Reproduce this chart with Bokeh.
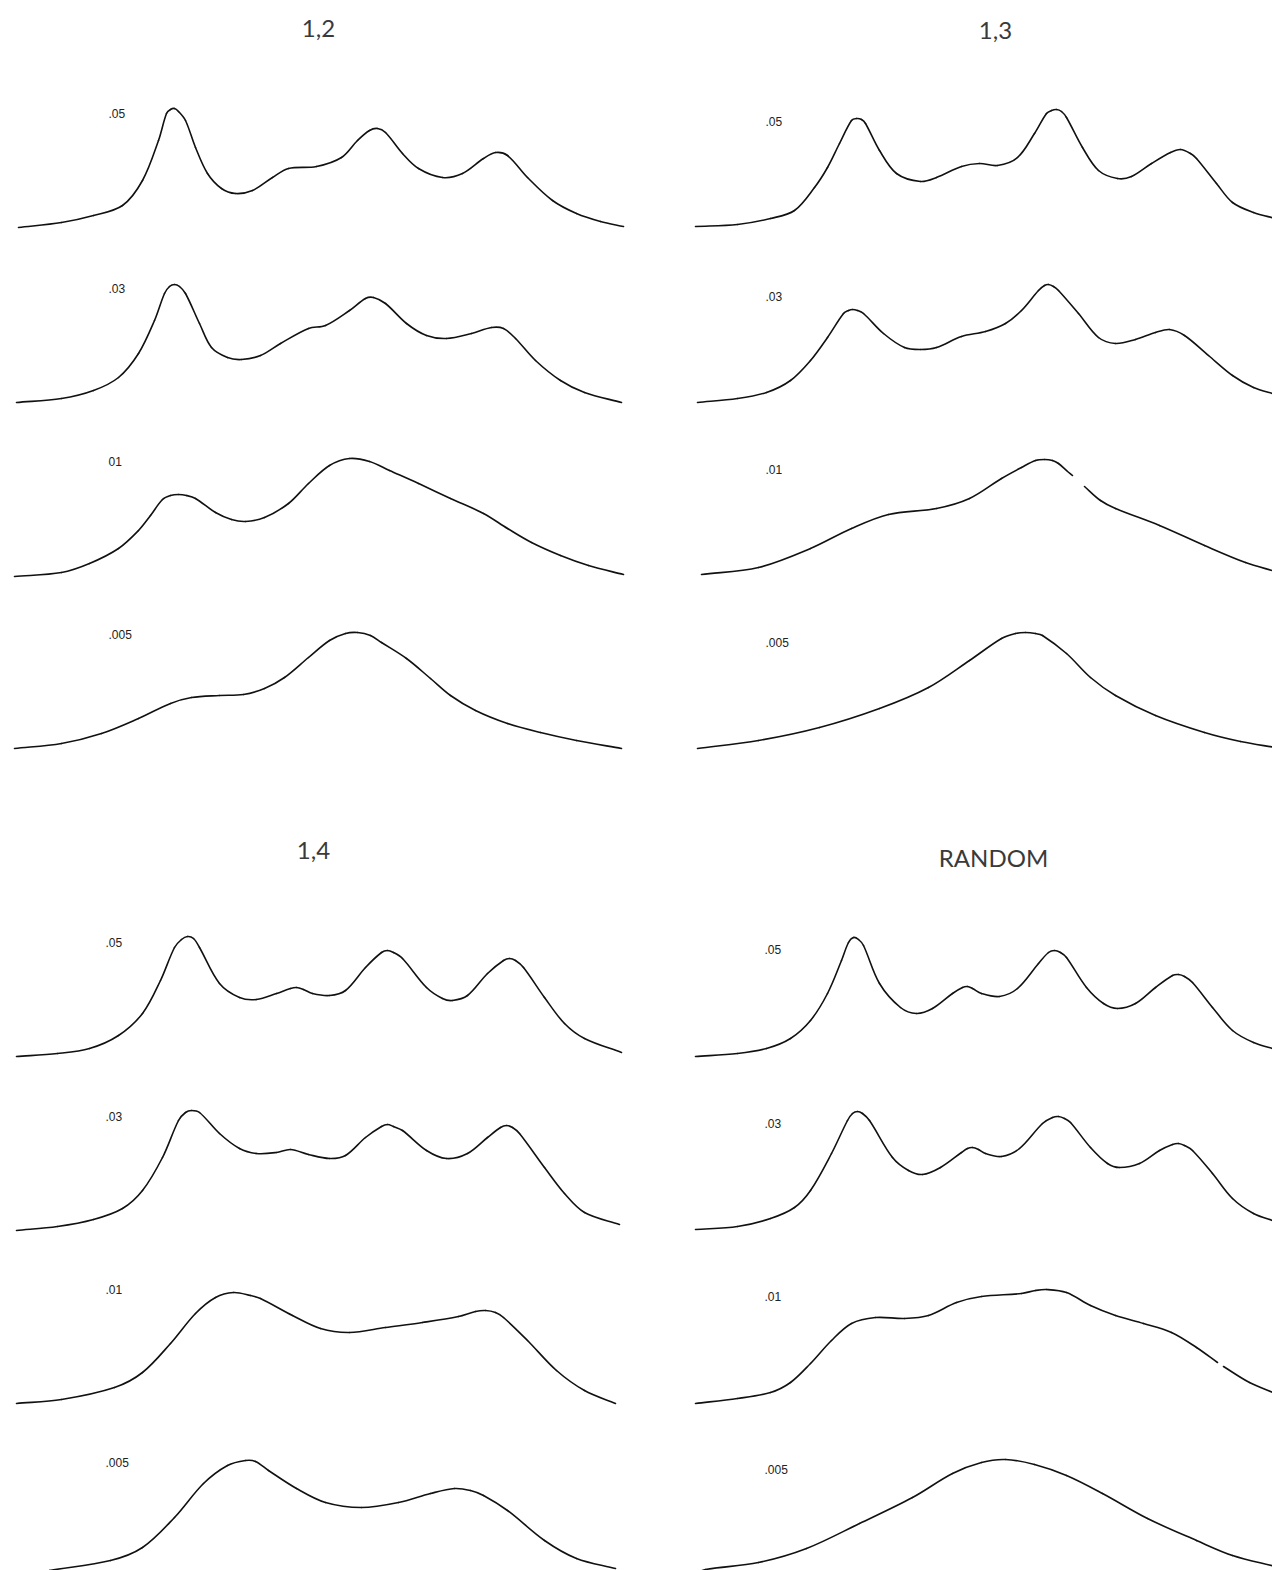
import numpy as np
from bokeh.plotting import figure
from bokeh.models import Range1d, ColumnDataSource
from bokeh.embed import file_html
from bokeh.resources import INLINE
from bokeh.core.properties import value

NAN = float("nan")

# ---- traces: abscissa u from the start of each trace, height h above its baseline ----

# panel "1,2"
p12_05_u = [2, 45, 77, 106, 126, 142, 150, 154, 158, 162, 169, 179, 191, 205, 219, 236, 256, 272, 300, 325, 341, 353, 361, 369, 386, 402, 426, 446, 467, 479, 491, 511, 536, 560, 584, 607]
p12_05_h = [0, 5, 12, 22, 47, 87, 114, 118, 119, 116, 107, 80, 54, 39, 34, 37, 50, 59, 61, 70, 87, 97, 99, 95, 74, 59, 50, 54, 69, 75, 72, 50, 27, 14, 6, 1]
p12_03_u = [0, 45, 77, 102, 122, 138, 148, 153, 158, 163, 169, 183, 195, 211, 225, 244, 264, 292, 309, 333, 349, 357, 369, 390, 410, 430, 455, 475, 487, 499, 519, 544, 568, 605]
p12_03_h = [0, 4, 12, 25, 49, 82, 109, 116, 118, 116, 109, 79, 55, 45, 43, 47, 59, 74, 77, 92, 104, 105, 99, 79, 67, 64, 69, 75, 74, 64, 42, 22, 10, 0]
p12_01_u = [-2, 45, 73, 102, 122, 134, 146, 154, 162, 170, 179, 199, 215, 229, 248, 272, 292, 313, 333, 353, 373, 402, 434, 467, 491, 515, 544, 572, 607]
p12_01_h = [-1, 3, 12, 27, 45, 60, 76, 80, 81, 80, 77, 63, 56, 54, 58, 72, 92, 110, 117, 114, 105, 92, 77, 62, 47, 33, 20, 10, 1]
p12_005_u = [-2, 45, 85, 122, 154, 175, 203, 227, 248, 268, 292, 313, 329, 341, 354, 365, 390, 414, 434, 459, 491, 524, 560, 605]
p12_005_h = [0, 5, 15, 30, 45, 51, 53, 54, 60, 71, 91, 108, 115, 116, 113, 106, 90, 70, 53, 38, 25, 16, 8, 0]

# panel "1,3"
p13_05_u = [0, 42, 75, 99, 119, 132, 144, 156, 161, 166, 170, 184, 201, 225, 241, 266, 284, 302, 322, 339, 351, 356, 361, 366, 371, 387, 403, 422, 436, 456, 475, 485, 495, 501, 521, 537, 558, 580]
p13_05_h = [1, 3, 9, 17, 40, 60, 84, 107, 109, 108, 104, 77, 54, 46, 50, 61, 64, 62, 70, 94, 114, 117, 118, 116, 110, 80, 57, 49, 51, 64, 75, 78, 74, 69, 44, 25, 15, 9]
p13_03_u = [2, 42, 71, 95, 115, 132, 148, 153, 157, 162, 168, 188, 209, 225, 241, 266, 290, 310, 326, 343, 349, 353, 358, 363, 383, 403, 420, 440, 460, 474, 489, 513, 537, 558, 580]
p13_03_h = [0, 4, 10, 22, 42, 65, 89, 92, 93, 92, 89, 69, 55, 53, 55, 66, 71, 79, 92, 112, 117, 118, 116, 112, 89, 65, 59, 63, 70, 73, 67, 47, 27, 15, 8]
p13_01_u = [6, 63, 115, 156, 193, 241, 274, 306, 326, 340, 349, 357, 363, 371, 377, 383, 389, 405, 420, 464, 509, 550, 580]
p13_01_h = [1, 8, 27, 47, 61, 67, 77, 97, 108, 115, 116, 115, 112, 105, 100, NAN, 89, 75, 67, 50, 30, 13, 4]
p13_005_u = [2, 63, 124, 184, 233, 274, 306, 320, 330, 340, 347, 371, 395, 420, 460, 509, 545, 580]
p13_005_h = [0, 8, 21, 40, 61, 88, 110, 115, 116, 115, 113, 95, 71, 53, 33, 16, 7, 1]

# panel "1,4"
p14_05_u = [0, 41, 73, 102, 126, 144, 158, 165, 171, 177, 183, 203, 223, 240, 260, 274, 280, 287, 296, 313, 329, 349, 365, 371, 377, 386, 410, 426, 436, 451, 471, 487, 493, 499, 507, 528, 548, 568, 605]
p14_05_h = [0, 3, 8, 21, 43, 76, 109, 117, 120, 118, 109, 73, 59, 57, 63, 68, 69, 67, 63, 61, 66, 89, 104, 106, 104, 98, 69, 58, 56, 61, 83, 96, 98, 96, 89, 59, 33, 18, 4]
p14_03_u = [0, 41, 77, 106, 126, 146, 162, 169, 175, 183, 203, 223, 240, 260, 274, 292, 313, 329, 349, 365, 371, 377, 386, 410, 430, 451, 471, 484, 490, 496, 503, 528, 548, 568, 603]
p14_03_h = [0, 4, 11, 22, 40, 73, 110, 118, 120, 118, 97, 82, 77, 78, 81, 76, 72, 75, 93, 104, 106, 104, 100, 80, 72, 77, 93, 103, 105, 103, 97, 63, 37, 18, 6]
p14_01_u = [0, 45, 98, 126, 154, 179, 199, 217, 234, 244, 276, 304, 333, 369, 406, 442, 459, 469, 479, 487, 511, 540, 568, 599]
p14_01_h = [0, 4, 16, 31, 60, 90, 106, 111, 108, 105, 88, 75, 71, 76, 81, 87, 92, 93, 91, 86, 63, 33, 13, 0]
p14_005_u = [0, 33, 94, 126, 158, 187, 211, 229, 239, 252, 280, 309, 345, 382, 414, 438, 454, 467, 491, 528, 560, 599]
p14_005_h = [0, 6, 16, 29, 59, 93, 111, 116, 115, 106, 88, 74, 69, 74, 83, 88, 86, 81, 66, 36, 18, 8]

# panel "RANDOM"
pr_05_u = [0, 42, 71, 95, 115, 132, 146, 153, 158, 163, 168, 184, 205, 221, 237, 257, 267, 272, 277, 286, 304, 322, 343, 353, 359, 365, 371, 391, 408, 422, 440, 460, 477, 483, 489, 497, 517, 537, 558, 580]
pr_05_h = [0, 3, 8, 18, 36, 63, 96, 114, 119, 117, 111, 73, 49, 43, 48, 63, 69, 70, 68, 63, 60, 68, 93, 104, 106, 104, 99, 69, 53, 48, 53, 69, 81, 82, 80, 74, 49, 26, 14, 7]
pr_03_u = [0, 42, 75, 99, 115, 136, 152, 157, 162, 167, 174, 197, 213, 227, 245, 266, 272, 277, 283, 290, 306, 324, 347, 357, 363, 369, 375, 395, 412, 424, 444, 464, 477, 483, 489, 497, 517, 537, 558, 580]
pr_03_h = [1, 4, 12, 23, 40, 77, 110, 117, 119, 117, 110, 73, 60, 56, 63, 78, 82, 83, 81, 77, 74, 82, 107, 113, 114, 112, 108, 83, 67, 63, 67, 80, 86, 87, 85, 80, 57, 32, 17, 9]
pr_01_u = [0, 42, 75, 95, 115, 136, 156, 180, 209, 233, 261, 286, 326, 340, 351, 371, 395, 420, 448, 476, 501, 522, 525, 528, 554, 580]
pr_01_h = [0, 5, 11, 21, 40, 63, 80, 86, 85, 88, 101, 107, 110, 113, 114, 111, 98, 88, 80, 71, 56, 41, NAN, 37, 21, 10]
pr_005_u = [2, 10, 63, 111, 164, 217, 257, 286, 310, 339, 371, 407, 452, 501, 537, 580]
pr_005_h = [4, 7, 14, 28, 53, 79, 103, 114, 117, 112, 101, 83, 58, 36, 21, 10]

titles = ["1,2", "1,3", "1,4", "RANDOM"]
level_labels = [".05", ".03", ".01", ".005"]
level_labels_12 = [".05", ".03", "01", ".005"]

panels = [
    dict(title=titles[0], labels=level_labels_12,
         traces=[(p12_05_u, p12_05_h), (p12_03_u, p12_03_h), (p12_01_u, p12_01_h), (p12_005_u, p12_005_h)],
         x0=16, bases=[227, 402, 575, 748], title_xy=(318, 28), label_x=108, label_dy=114),
    dict(title=titles[1], labels=level_labels,
         traces=[(p13_05_u, p13_05_h), (p13_03_u, p13_03_h), (p13_01_u, p13_01_h), (p13_005_u, p13_005_h)],
         x0=695, bases=[227, 402, 575, 748], title_xy=(995, 30), label_x=765, label_dy=106),
    dict(title=titles[2], labels=level_labels,
         traces=[(p14_05_u, p14_05_h), (p14_03_u, p14_03_h), (p14_01_u, p14_01_h), (p14_005_u, p14_005_h)],
         x0=16, bases=[1056, 1230, 1403, 1576], title_xy=(313, 850), label_x=105, label_dy=114),
    dict(title=titles[3], labels=level_labels,
         traces=[(pr_05_u, pr_05_h), (pr_03_u, pr_03_h), (pr_01_u, pr_01_h), (pr_005_u, pr_005_h)],
         x0=695, bases=[1056, 1230, 1403, 1576], title_xy=(993, 857), label_x=764, label_dy=107),
]

W, H = 1272, 1570
p = figure(width=W, height=H, x_range=Range1d(0, W), y_range=Range1d(H, 0),
           output_backend="svg", toolbar_location=None,
           x_axis_location=None, y_axis_location=None, min_border=0)
p.grid.visible = False
p.outline_line_color = None
p.background_fill_color = "white"
p.border_fill_color = "white"


def smooth_segments(xs, ys):
    """Cubic Bezier pieces through each unbroken run of points, using
    chord-length Catmull-Rom tangents so uneven spacing gives no kinks."""
    out = dict(x0=[], y0=[], x1=[], y1=[], cx0=[], cy0=[], cx1=[], cy1=[])
    runs, cur = [], []
    for x, y in zip(xs, ys):
        if np.isnan(y):
            if cur:
                runs.append(cur)
            cur = []
        else:
            cur.append(np.array([x, y], dtype=float))
    if cur:
        runs.append(cur)
    for run in runs:
        n = len(run)
        d = [np.linalg.norm(run[i + 1] - run[i]) for i in range(n - 1)]
        tang = []
        for i in range(n):
            if i == 0:
                m = (run[1] - run[0]) / d[0]
            elif i == n - 1:
                m = (run[-1] - run[-2]) / d[-1]
            else:
                m = (run[i + 1] - run[i - 1]) / (d[i - 1] + d[i])
            tang.append(m)
        for i in range(n - 1):
            a, b = run[i], run[i + 1]
            c0 = a + tang[i] * d[i] / 3.0
            c1 = b - tang[i + 1] * d[i] / 3.0
            out["x0"].append(a[0]); out["y0"].append(a[1])
            out["x1"].append(b[0]); out["y1"].append(b[1])
            out["cx0"].append(c0[0]); out["cy0"].append(c0[1])
            out["cx1"].append(c1[0]); out["cy1"].append(c1[1])
    return out


for panel in panels:
    for (u, h), base in zip(panel["traces"], panel["bases"]):
        xs = [panel["x0"] + a for a in u]
        ys = [base - b if not np.isnan(b) else NAN for b in h]
        src = ColumnDataSource(smooth_segments(xs, ys))
        p.bezier(x0="x0", y0="y0", x1="x1", y1="y1", cx0="cx0", cy0="cy0",
                 cx1="cx1", cy1="cy1", source=src, line_color="#111111",
                 line_width=1.6, line_cap="round")

    p.text(x=[panel["label_x"]] * 4, y=[b - panel["label_dy"] for b in panel["bases"]],
           text=panel["labels"], text_font=value("Liberation Sans"), text_font_size="12px",
           text_color="#222222", text_align="left", text_baseline="middle")

    tx, ty = panel["title_xy"]
    p.text(x=[tx], y=[ty], text=[panel["title"]], text_font=value("Lato"),
           text_font_size="24px", text_color="#3a3a3a", text_align="center",
           text_baseline="middle")

open("out.html", "w").write(file_html(p, INLINE))
